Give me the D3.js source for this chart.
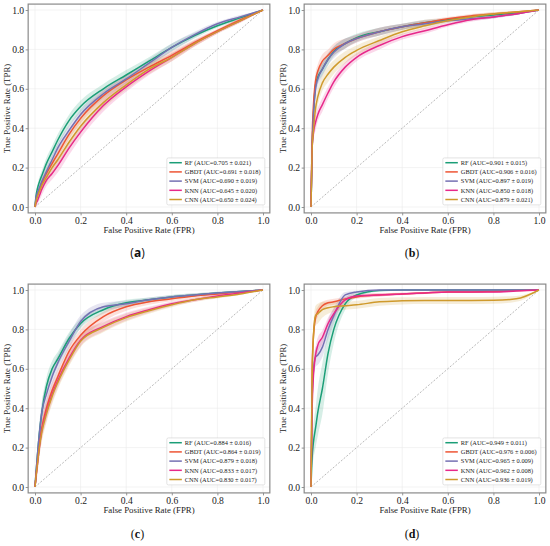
<!DOCTYPE html>
<html>
<head>
<meta charset="utf-8">
<script src="https://cdn.jsdelivr.net/npm/d3@7"></script>
<style>
  body { margin: 0; background: #fff; }
  svg { display: block; }
</style>
</head>
<body>
<script>
// Model names and colours (same in all four panels)
const models = ['RF', 'GBDT', 'SVM', 'KNN', 'CNN'];
const modelColors = ['#1b9e77', '#ee5535', '#7570b3', '#e7298a', '#cf9a2c'];

// Shared FPR grid the mean curves were read on
const fprGrid = [0, 0.005, 0.01, 0.02, 0.03, 0.05, 0.075, 0.1, 0.15, 0.2, 0.3, 0.4, 0.5, 0.6, 0.7, 0.8, 0.9, 1.0];
const tickValues = [0, 0.2, 0.4, 0.6, 0.8, 1.0];
const panelNames = ['a', 'b', 'c', 'd'];

// AUC legend labels
const aucA = ['0.705 ± 0.021', '0.691 ± 0.018', '0.690 ± 0.019', '0.645 ± 0.020', '0.650 ± 0.024'];
const aucB = ['0.901 ± 0.015', '0.906 ± 0.016', '0.897 ± 0.019', '0.850 ± 0.018', '0.879 ± 0.021'];
const aucC = ['0.884 ± 0.016', '0.864 ± 0.019', '0.879 ± 0.018', '0.833 ± 0.017', '0.830 ± 0.017'];
const aucD = ['0.949 ± 0.011', '0.976 ± 0.006', '0.965 ± 0.009', '0.962 ± 0.008', '0.936 ± 0.019'];

// Mean TPR per model (rows: RF, GBDT, SVM, KNN, CNN)
const tprA = [
  [0, 0.06, 0.09, 0.13, 0.16, 0.22, 0.28, 0.34, 0.44, 0.51, 0.60, 0.67, 0.74, 0.81, 0.87, 0.92, 0.96, 1],
  [0, 0.04, 0.06, 0.09, 0.12, 0.17, 0.22, 0.27, 0.37, 0.45, 0.565, 0.645, 0.71, 0.77, 0.835, 0.895, 0.95, 1],
  [0, 0.05, 0.07, 0.10, 0.13, 0.18, 0.24, 0.30, 0.39, 0.47, 0.575, 0.65, 0.73, 0.81, 0.875, 0.93, 0.965, 1],
  [0, 0.02, 0.03, 0.06, 0.09, 0.135, 0.17, 0.21, 0.30, 0.38, 0.515, 0.61, 0.69, 0.76, 0.83, 0.89, 0.945, 1],
  [0, 0.03, 0.05, 0.08, 0.11, 0.15, 0.20, 0.24, 0.33, 0.41, 0.53, 0.62, 0.70, 0.76, 0.83, 0.89, 0.945, 1]
];
const tprB = [
  [0, 0.30, 0.45, 0.62, 0.66, 0.70, 0.75, 0.79, 0.83, 0.86, 0.89, 0.915, 0.935, 0.95, 0.965, 0.975, 0.985, 1],
  [0, 0.35, 0.50, 0.64, 0.69, 0.74, 0.77, 0.80, 0.83, 0.855, 0.89, 0.915, 0.935, 0.955, 0.97, 0.98, 0.99, 1],
  [0, 0.30, 0.45, 0.60, 0.65, 0.70, 0.75, 0.785, 0.83, 0.855, 0.89, 0.915, 0.93, 0.945, 0.955, 0.965, 0.98, 1],
  [0, 0.30, 0.37, 0.43, 0.47, 0.52, 0.58, 0.635, 0.71, 0.76, 0.82, 0.865, 0.895, 0.925, 0.95, 0.965, 0.98, 1],
  [0, 0.30, 0.38, 0.50, 0.56, 0.63, 0.675, 0.71, 0.76, 0.795, 0.845, 0.89, 0.92, 0.945, 0.965, 0.98, 0.99, 1]
];
const tprC = [
  [0, 0.08, 0.15, 0.28, 0.38, 0.51, 0.60, 0.65, 0.755, 0.83, 0.90, 0.935, 0.95, 0.965, 0.975, 0.985, 0.993, 1],
  [0, 0.06, 0.12, 0.22, 0.30, 0.40, 0.49, 0.56, 0.69, 0.77, 0.865, 0.915, 0.94, 0.955, 0.97, 0.98, 0.99, 1],
  [0, 0.08, 0.15, 0.28, 0.38, 0.47, 0.56, 0.63, 0.74, 0.84, 0.915, 0.93, 0.95, 0.965, 0.975, 0.985, 0.993, 1],
  [0, 0.06, 0.11, 0.21, 0.29, 0.38, 0.47, 0.54, 0.655, 0.745, 0.815, 0.865, 0.90, 0.93, 0.95, 0.97, 0.985, 1],
  [0, 0.06, 0.11, 0.21, 0.28, 0.37, 0.46, 0.53, 0.645, 0.74, 0.81, 0.86, 0.895, 0.925, 0.95, 0.965, 0.98, 1]
];
const tprD = [
  [0, 0.15, 0.22, 0.30, 0.38, 0.50, 0.68, 0.80, 0.93, 0.975, 0.997, 1, 1, 1, 1, 1, 1, 1],
  [0, 0.60, 0.75, 0.86, 0.89, 0.92, 0.935, 0.94, 0.955, 0.965, 0.975, 0.98, 0.985, 0.99, 0.99, 0.993, 0.997, 1],
  [0, 0.45, 0.58, 0.66, 0.67, 0.71, 0.80, 0.87, 0.975, 0.99, 1, 1, 1, 1, 1, 1, 1, 1],
  [0, 0.40, 0.55, 0.67, 0.72, 0.76, 0.83, 0.88, 0.95, 0.97, 0.975, 0.98, 0.985, 0.99, 0.99, 0.99, 0.995, 1],
  [0, 0.55, 0.75, 0.87, 0.88, 0.90, 0.91, 0.915, 0.92, 0.925, 0.94, 0.945, 0.947, 0.947, 0.947, 0.948, 0.955, 1]
];

// Std band half-widths per model
const bandA = [
  [0, 0.02, 0.02, 0.025, 0.025, 0.03, 0.03, 0.03, 0.03, 0.03, 0.025, 0.025, 0.02, 0.02, 0.015, 0.01, 0.01, 0],
  [0, 0.02, 0.02, 0.02, 0.025, 0.025, 0.025, 0.025, 0.025, 0.025, 0.025, 0.02, 0.02, 0.02, 0.015, 0.01, 0.01, 0],
  [0, 0.02, 0.02, 0.02, 0.025, 0.025, 0.025, 0.025, 0.025, 0.025, 0.025, 0.02, 0.02, 0.02, 0.015, 0.01, 0.01, 0],
  [0, 0.02, 0.02, 0.025, 0.03, 0.03, 0.03, 0.035, 0.035, 0.03, 0.03, 0.025, 0.02, 0.02, 0.015, 0.01, 0.01, 0],
  [0, 0.02, 0.02, 0.025, 0.03, 0.03, 0.035, 0.035, 0.035, 0.035, 0.03, 0.025, 0.025, 0.02, 0.015, 0.01, 0.01, 0]
];
const bandB = [
  [0, 0.05, 0.05, 0.04, 0.035, 0.03, 0.03, 0.025, 0.025, 0.02, 0.02, 0.015, 0.015, 0.01, 0.01, 0.008, 0.005, 0],
  [0, 0.05, 0.05, 0.04, 0.035, 0.035, 0.03, 0.03, 0.025, 0.02, 0.02, 0.015, 0.015, 0.01, 0.01, 0.008, 0.005, 0],
  [0, 0.05, 0.05, 0.045, 0.04, 0.035, 0.03, 0.03, 0.025, 0.02, 0.02, 0.015, 0.015, 0.01, 0.01, 0.008, 0.005, 0],
  [0, 0.04, 0.04, 0.04, 0.035, 0.035, 0.03, 0.03, 0.025, 0.02, 0.02, 0.015, 0.015, 0.01, 0.01, 0.008, 0.005, 0],
  [0, 0.05, 0.05, 0.05, 0.045, 0.04, 0.04, 0.035, 0.03, 0.025, 0.02, 0.015, 0.015, 0.01, 0.01, 0.008, 0.005, 0]
];
const bandC = [
  [0, 0.04, 0.05, 0.05, 0.05, 0.045, 0.04, 0.035, 0.03, 0.025, 0.02, 0.015, 0.012, 0.01, 0.008, 0.006, 0.004, 0],
  [0, 0.04, 0.05, 0.05, 0.05, 0.045, 0.04, 0.035, 0.03, 0.03, 0.025, 0.02, 0.015, 0.012, 0.01, 0.008, 0.005, 0],
  [0, 0.04, 0.05, 0.05, 0.05, 0.05, 0.045, 0.04, 0.035, 0.03, 0.02, 0.015, 0.012, 0.01, 0.008, 0.006, 0.004, 0],
  [0, 0.04, 0.05, 0.05, 0.05, 0.045, 0.04, 0.035, 0.03, 0.03, 0.025, 0.02, 0.015, 0.012, 0.01, 0.008, 0.005, 0],
  [0, 0.04, 0.05, 0.05, 0.05, 0.045, 0.04, 0.035, 0.03, 0.03, 0.025, 0.02, 0.015, 0.012, 0.01, 0.008, 0.005, 0]
];
const bandD = [
  [0, 0.05, 0.08, 0.10, 0.12, 0.13, 0.10, 0.07, 0.03, 0.012, 0.004, 0, 0, 0, 0, 0, 0, 0],
  [0, 0.06, 0.05, 0.03, 0.025, 0.02, 0.015, 0.015, 0.01, 0.01, 0.008, 0.006, 0.005, 0.004, 0.004, 0.003, 0.002, 0],
  [0, 0.06, 0.06, 0.05, 0.05, 0.05, 0.05, 0.04, 0.015, 0.006, 0, 0, 0, 0, 0, 0, 0, 0],
  [0, 0.05, 0.05, 0.04, 0.04, 0.035, 0.03, 0.025, 0.015, 0.01, 0.008, 0.006, 0.005, 0.004, 0.004, 0.004, 0.003, 0],
  [0, 0.06, 0.06, 0.05, 0.05, 0.04, 0.03, 0.025, 0.02, 0.02, 0.02, 0.018, 0.018, 0.018, 0.018, 0.018, 0.015, 0]
];

const panelTpr = [tprA, tprB, tprC, tprD];
const panelBand = [bandA, bandB, bandC, bandD];
const panelAuc = [aucA, aucB, aucC, aucD];

// Layout
const width = 550;
const height = 546;
const plotW = 228;
const plotH = 197;
const pad = 0.03; // axis padding in data units
const panelLayout = [
  { left: 35, top: 10, labelX: 137.5, labelY: 257 },
  { left: 311, top: 10, labelX: 412, labelY: 257 },
  { left: 35, top: 290, labelX: 137.5, labelY: 538 },
  { left: 311, top: 290, labelX: 412, labelY: 538 }
];
const serif = '"Liberation Serif", "Times New Roman", serif';

const svg = d3.select('body').append('svg')
  .attr('width', width)
  .attr('height', height);

svg.append('rect').attr('width', width).attr('height', height).attr('fill', '#fff');

panelLayout.forEach((pl, pi) => {
  const x = d3.scaleLinear().domain([0, 1]).range([pl.left, pl.left + plotW]);
  const y = d3.scaleLinear().domain([0, 1]).range([pl.top + plotH, pl.top]);
  const fx0 = x(-pad), fx1 = x(1 + pad);
  const fy0 = y(1 + pad), fy1 = y(-pad);

  const g = svg.append('g');

  // clip to the frame
  g.append('clipPath').attr('id', 'clip' + pi)
    .append('rect').attr('x', fx0).attr('y', fy0)
    .attr('width', fx1 - fx0).attr('height', fy1 - fy0);

  // grid
  g.append('g').selectAll('line.gx').data(tickValues).enter().append('line')
    .attr('x1', d => x(d)).attr('x2', d => x(d))
    .attr('y1', fy0).attr('y2', fy1)
    .attr('stroke', '#ebebeb').attr('stroke-width', 0.6);
  g.append('g').selectAll('line.gy').data(tickValues).enter().append('line')
    .attr('y1', d => y(d)).attr('y2', d => y(d))
    .attr('x1', fx0).attr('x2', fx1)
    .attr('stroke', '#ebebeb').attr('stroke-width', 0.6);

  const plot = g.append('g').attr('clip-path', `url(#clip${pi})`);

  // chance line
  plot.append('line')
    .attr('x1', x(0)).attr('y1', y(0)).attr('x2', x(1)).attr('y2', y(1))
    .attr('stroke', '#9a9a9a').attr('stroke-width', 0.7)
    .attr('stroke-dasharray', '2,1.6');

  const tpr = panelTpr[pi];
  const band = panelBand[pi];

  const area = d3.area()
    .x(d => x(d.f))
    .y0(d => y(Math.max(0, d.t - d.s)))
    .y1(d => y(Math.min(1, d.t + d.s)))
    .curve(d3.curveMonotoneX);
  const line = d3.line()
    .x(d => x(d.f))
    .y(d => y(d.t))
    .curve(d3.curveMonotoneX);

  const series = models.map((m, mi) => fprGrid.map((f, k) => ({ f: f, t: tpr[mi][k], s: band[mi][k] })));

  // std bands first, then mean curves on top
  plot.selectAll('path.band').data(series).enter().append('path')
    .attr('d', area)
    .attr('fill', (d, mi) => modelColors[mi])
    .attr('fill-opacity', 0.18)
    .attr('stroke', 'none');

  plot.selectAll('path.roc').data(series).enter().append('path')
    .attr('d', line)
    .attr('fill', 'none')
    .attr('stroke', (d, mi) => modelColors[mi])
    .attr('stroke-width', 1.5);

  // axes
  const xAxis = d3.axisBottom(x).tickValues(tickValues).tickFormat(d3.format('.1f'))
    .tickSize(2.5).tickPadding(2);
  const yAxis = d3.axisLeft(y).tickValues(tickValues).tickFormat(d3.format('.1f'))
    .tickSize(2.5).tickPadding(1.5);

  const gx = g.append('g').attr('transform', `translate(0,${fy1})`).call(xAxis);
  const gy = g.append('g').attr('transform', `translate(${fx0},0)`).call(yAxis);
  [gx, gy].forEach(ax => {
    ax.select('.domain').remove();
    ax.selectAll('line').attr('stroke', '#666').attr('stroke-width', 0.7);
    ax.selectAll('text').attr('font-family', serif).attr('font-size', 9.6).attr('fill', '#222');
  });

  // frame
  g.append('rect')
    .attr('x', fx0).attr('y', fy0)
    .attr('width', fx1 - fx0).attr('height', fy1 - fy0)
    .attr('fill', 'none').attr('stroke', '#8a8a8a').attr('stroke-width', 1.2);

  // axis titles
  g.append('text')
    .attr('x', x(0.5)).attr('y', fy1 + 20.5)
    .attr('text-anchor', 'middle')
    .attr('font-family', serif).attr('font-size', 8.8).attr('fill', '#222')
    .text('False Positive Rate (FPR)');
  g.append('text')
    .attr('transform', `translate(${fx0 - 18},${y(0.5)}) rotate(-90)`)
    .attr('text-anchor', 'middle')
    .attr('font-family', serif).attr('font-size', 8.8).attr('fill', '#222')
    .text('True Positive Rate (TPR)');

  // legend
  const legX = fx1 - 103;
  const rowH = 9.2;
  const legBottom = fy1 - 8;
  const legTop = legBottom - rowH * models.length - 1;
  const leg = g.append('g');
  leg.append('rect')
    .attr('x', legX).attr('y', legTop)
    .attr('width', 98).attr('height', legBottom - legTop)
    .attr('rx', 1.5)
    .attr('fill', '#fff').attr('fill-opacity', 0.85)
    .attr('stroke', '#d0d0d0').attr('stroke-width', 0.6);
  models.forEach((m, mi) => {
    const ly = legTop + 4.8 + mi * rowH;
    leg.append('line')
      .attr('x1', legX + 2.5).attr('x2', legX + 15)
      .attr('y1', ly).attr('y2', ly)
      .attr('stroke', modelColors[mi]).attr('stroke-width', 1.5);
    leg.append('text')
      .attr('x', legX + 18).attr('y', ly + 2.2)
      .attr('font-family', serif).attr('font-size', 6.4).attr('fill', '#222')
      .text(`${m} (AUC=${panelAuc[pi][mi]})`);
  });

  // panel label
  const lab = svg.append('text')
    .attr('x', pl.labelX).attr('y', pl.labelY)
    .attr('text-anchor', 'middle')
    .attr('font-family', pi === 0 ? '"Open Sans", "Liberation Sans", sans-serif' : serif)
    .attr('font-size', 12).attr('fill', '#111');
  lab.append('tspan').text('(');
  lab.append('tspan').attr('font-weight', 'bold').text(panelNames[pi]);
  lab.append('tspan').text(')');
});
</script>
</body>
</html>
